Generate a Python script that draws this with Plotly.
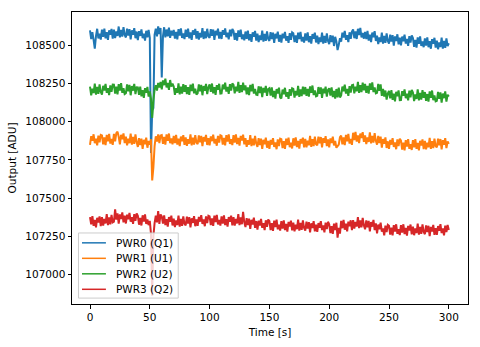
import plotly.graph_objects as go

# Time axis [s], one sample per second
time_s = list(range(0, 301))

pwr0_q1 = [
    108600, 108542, 108587, 108537, 108480, 108562, 108610, 108547, 108577, 108539,
    108605, 108557, 108611, 108547, 108587, 108537, 108600, 108570, 108609, 108545,
    108605, 108549, 108593, 108563, 108625, 108553, 108603, 108558, 108620, 108570,
    108553, 108611, 108566, 108608, 108540, 108600, 108570, 108614, 108548, 108592,
    108536, 108594, 108563, 108606, 108548, 108578, 108533, 108597, 108554, 108602,
    108550, 107795, 108075, 108090, 108570, 108610, 108560, 108625, 108575, 108615,
    108290, 108560, 108620, 108553, 108605, 108560, 108618, 108550, 108597, 108565,
    108603, 108545, 108590, 108540, 108607, 108565, 108613, 108550, 108580, 108542,
    108605, 108557, 108611, 108547, 108587, 108537, 108600, 108570, 108609, 108545,
    108595, 108539, 108583, 108553, 108615, 108543, 108593, 108548, 108610, 108560,
    108550, 108608, 108563, 108605, 108537, 108597, 108567, 108611, 108545, 108589,
    108543, 108601, 108570, 108613, 108555, 108585, 108540, 108604, 108561, 108609,
    108595, 108537, 108582, 108532, 108599, 108557, 108605, 108542, 108572, 108534,
    108592, 108544, 108598, 108534, 108574, 108524, 108587, 108557, 108596, 108532,
    108578, 108522, 108566, 108536, 108598, 108526, 108576, 108531, 108593, 108543,
    108530, 108588, 108543, 108585, 108517, 108577, 108547, 108591, 108525, 108569,
    108520, 108578, 108547, 108590, 108532, 108562, 108517, 108581, 108538, 108586,
    108580, 108522, 108567, 108517, 108584, 108542, 108590, 108527, 108557, 108519,
    108580, 108532, 108586, 108522, 108562, 108512, 108575, 108545, 108584, 108520,
    108565, 108509, 108553, 108523, 108585, 108513, 108563, 108518, 108580, 108530,
    108510, 108568, 108523, 108565, 108497, 108557, 108527, 108470, 108505, 108549,
    108526, 108584, 108553, 108596, 108538, 108568, 108523, 108587, 108544, 108592,
    108606, 108548, 108593, 108543, 108610, 108568, 108616, 108553, 108583, 108545,
    108590, 108542, 108596, 108532, 108572, 108522, 108585, 108555, 108594, 108530,
    108565, 108509, 108553, 108523, 108585, 108513, 108563, 108518, 108580, 108530,
    108513, 108571, 108526, 108568, 108500, 108560, 108530, 108574, 108508, 108552,
    108501, 108559, 108528, 108571, 108513, 108543, 108498, 108562, 108519, 108567,
    108550, 108492, 108537, 108487, 108554, 108512, 108560, 108497, 108527, 108489,
    108547, 108499, 108553, 108489, 108529, 108479, 108542, 108512, 108551, 108487,
    108532, 108476, 108520, 108490, 108552, 108480, 108530, 108485, 108547, 108497, 108515,
]

pwr1_u1 = [
    107848, 107906, 107875, 107918, 107860, 107890, 107845, 107909, 107866, 107914,
    107910, 107852, 107897, 107847, 107914, 107872, 107920, 107857, 107887, 107849,
    107920, 107872, 107926, 107935, 107902, 107852, 107915, 107885, 107924, 107860,
    107902, 107846, 107890, 107860, 107922, 107850, 107900, 107855, 107917, 107867,
    107835, 107893, 107848, 107890, 107822, 107882, 107852, 107896, 107830, 107874,
    107850, 107885, 107615, 107700, 107840, 107905, 107870, 107918, 107860, 107910,
    107913, 107855, 107900, 107850, 107917, 107875, 107923, 107860, 107890, 107852,
    107908, 107860, 107914, 107850, 107890, 107840, 107903, 107873, 107912, 107848,
    107898, 107842, 107886, 107856, 107918, 107846, 107896, 107851, 107913, 107863,
    107853, 107911, 107866, 107908, 107840, 107900, 107870, 107914, 107848, 107892,
    107846, 107904, 107873, 107916, 107858, 107888, 107843, 107907, 107864, 107912,
    107908, 107850, 107895, 107845, 107912, 107870, 107918, 107855, 107885, 107847,
    107912, 107864, 107918, 107854, 107894, 107844, 107907, 107877, 107916, 107852,
    107892, 107836, 107880, 107850, 107912, 107840, 107890, 107845, 107907, 107857,
    107835, 107893, 107848, 107890, 107822, 107882, 107852, 107896, 107830, 107874,
    107823, 107881, 107850, 107893, 107835, 107865, 107820, 107884, 107841, 107889,
    107886, 107828, 107873, 107823, 107890, 107848, 107896, 107833, 107863, 107825,
    107892, 107844, 107898, 107834, 107874, 107824, 107887, 107857, 107896, 107832,
    107888, 107832, 107876, 107846, 107908, 107836, 107886, 107841, 107903, 107853,
    107845, 107903, 107858, 107900, 107832, 107892, 107862, 107906, 107840, 107884,
    107833, 107891, 107860, 107903, 107845, 107875, 107830, 107840, 107851, 107899,
    107910, 107852, 107897, 107847, 107914, 107872, 107920, 107857, 107887, 107849,
    107928, 107880, 107934, 107870, 107910, 107860, 107923, 107893, 107932, 107868,
    107910, 107854, 107898, 107868, 107930, 107858, 107908, 107863, 107925, 107875,
    107850, 107908, 107861, 107903, 107830, 107887, 107856, 107898, 107828, 107872,
    107823, 107881, 107850, 107893, 107835, 107865, 107820, 107884, 107841, 107889,
    107876, 107818, 107863, 107813, 107880, 107838, 107886, 107823, 107853, 107815,
    107880, 107832, 107886, 107822, 107862, 107812, 107875, 107845, 107884, 107820,
    107875, 107819, 107863, 107833, 107895, 107823, 107873, 107828, 107890, 107840,
    107832, 107890, 107845, 107887, 107819, 107879, 107849, 107893, 107827, 107871, 107855,
]

pwr2_u2 = [
    108230, 108174, 108218, 108188, 108250, 108178, 108228, 108183, 108245, 108195,
    108178, 108236, 108205, 108248, 108190, 108220, 108175, 108239, 108196, 108244,
    108243, 108185, 108230, 108180, 108247, 108205, 108253, 108190, 108220, 108182,
    108187, 108245, 108200, 108242, 108174, 108234, 108204, 108248, 108182, 108226,
    108225, 108177, 108231, 108167, 108207, 108157, 108220, 108190, 108229, 108165,
    108200, 108150, 108025, 108140, 108210, 108240, 108205, 108255, 108225, 108262,
    108213, 108271, 108240, 108283, 108225, 108255, 108210, 108274, 108231, 108250,
    108232, 108176, 108220, 108190, 108252, 108180, 108230, 108185, 108247, 108197,
    108240, 108182, 108227, 108177, 108244, 108202, 108250, 108187, 108217, 108179,
    108187, 108245, 108200, 108242, 108174, 108234, 108204, 108248, 108182, 108226,
    108245, 108197, 108251, 108187, 108227, 108177, 108240, 108210, 108249, 108185,
    108186, 108244, 108213, 108256, 108198, 108228, 108183, 108247, 108204, 108252,
    108242, 108186, 108230, 108200, 108262, 108190, 108240, 108195, 108257, 108207,
    108238, 108180, 108225, 108175, 108242, 108200, 108248, 108185, 108215, 108177,
    108175, 108233, 108188, 108230, 108162, 108222, 108192, 108236, 108170, 108214,
    108220, 108172, 108226, 108162, 108202, 108152, 108215, 108185, 108224, 108160,
    108153, 108211, 108180, 108223, 108165, 108195, 108150, 108214, 108171, 108219,
    108215, 108159, 108203, 108173, 108235, 108163, 108213, 108168, 108230, 108180,
    108228, 108170, 108215, 108165, 108232, 108190, 108238, 108175, 108205, 108167,
    108170, 108228, 108183, 108225, 108157, 108217, 108187, 108231, 108165, 108209,
    108220, 108172, 108226, 108162, 108202, 108152, 108215, 108160, 108224, 108160,
    108173, 108231, 108200, 108243, 108185, 108215, 108170, 108234, 108191, 108239,
    108242, 108186, 108230, 108200, 108262, 108190, 108240, 108195, 108257, 108207,
    108248, 108190, 108235, 108185, 108252, 108210, 108258, 108195, 108225, 108187,
    108190, 108248, 108203, 108245, 108170, 108215, 108165, 108205, 108145, 108185,
    108202, 108154, 108208, 108144, 108184, 108134, 108197, 108167, 108206, 108142,
    108143, 108201, 108170, 108213, 108155, 108185, 108140, 108204, 108161, 108209,
    108192, 108136, 108180, 108150, 108212, 108140, 108190, 108145, 108207, 108157,
    108195, 108137, 108182, 108132, 108199, 108157, 108205, 108142, 108172, 108134,
    108138, 108196, 108151, 108193, 108125, 108185, 108155, 108199, 108133, 108177, 108165,
]

pwr3_q2 = [
    107375, 107327, 107381, 107317, 107357, 107307, 107370, 107340, 107379, 107315,
    107375, 107319, 107363, 107333, 107395, 107323, 107373, 107328, 107390, 107340,
    107345, 107425, 107358, 107400, 107332, 107392, 107362, 107406, 107340, 107384,
    107333, 107391, 107360, 107403, 107345, 107375, 107330, 107394, 107351, 107399,
    107383, 107325, 107370, 107320, 107387, 107345, 107393, 107330, 107360, 107322,
    107350, 107265, 106860, 107250, 107335, 107385, 107340, 107415, 107330, 107392,
    107380, 107332, 107386, 107322, 107362, 107312, 107375, 107345, 107384, 107320,
    107365, 107309, 107353, 107323, 107385, 107313, 107363, 107318, 107380, 107330,
    107320, 107378, 107333, 107375, 107307, 107367, 107337, 107381, 107315, 107359,
    107318, 107376, 107345, 107388, 107330, 107360, 107315, 107379, 107336, 107384,
    107380, 107322, 107367, 107317, 107384, 107342, 107390, 107327, 107357, 107319,
    107380, 107332, 107386, 107322, 107362, 107312, 107375, 107345, 107384, 107320,
    107375, 107319, 107363, 107333, 107395, 107323, 107373, 107328, 107410, 107340,
    107310, 107368, 107323, 107365, 107297, 107357, 107327, 107371, 107305, 107349,
    107293, 107351, 107320, 107363, 107305, 107335, 107290, 107354, 107311, 107359,
    107348, 107290, 107335, 107285, 107352, 107310, 107358, 107295, 107325, 107287,
    107348, 107300, 107354, 107290, 107330, 107280, 107343, 107313, 107352, 107288,
    107338, 107282, 107326, 107296, 107358, 107286, 107336, 107291, 107353, 107303,
    107287, 107345, 107300, 107342, 107274, 107334, 107304, 107348, 107282, 107326,
    107278, 107336, 107305, 107348, 107290, 107320, 107275, 107339, 107296, 107344,
    107328, 107270, 107315, 107265, 107332, 107290, 107338, 107240, 107305, 107267,
    107350, 107302, 107356, 107292, 107332, 107282, 107345, 107315, 107354, 107290,
    107355, 107299, 107343, 107313, 107375, 107303, 107353, 107308, 107370, 107320,
    107295, 107353, 107308, 107350, 107282, 107342, 107312, 107356, 107290, 107334,
    107268, 107326, 107295, 107338, 107280, 107300, 107255, 107319, 107276, 107324,
    107318, 107260, 107305, 107255, 107322, 107280, 107328, 107265, 107295, 107257,
    107322, 107274, 107328, 107264, 107304, 107254, 107317, 107287, 107326, 107262,
    107312, 107256, 107300, 107270, 107332, 107260, 107310, 107265, 107327, 107277,
    107263, 107321, 107276, 107318, 107250, 107310, 107280, 107324, 107258, 107302,
    107258, 107316, 107285, 107328, 107270, 107300, 107255, 107319, 107276, 107324, 107290,
]

series_names = ["PWR0 (Q1)", "PWR1 (U1)", "PWR2 (U2)", "PWR3 (Q2)"]
series_values = [pwr0_q1, pwr1_u1, pwr2_u2, pwr3_q2]
series_colors = ["#1f77b4", "#ff7f0e", "#2ca02c", "#d62728"]

x_ticks = [0, 50, 100, 150, 200, 250, 300]
y_ticks = [107000, 107250, 107500, 107750, 108000, 108250, 108500]

FONT = "DejaVu Sans"
FS = 10.5

# plot area in pixels (for the hand-placed legend box)
W, H = 480, 347
ML, MR, MT, MB = 72, 11, 11, 40
PW, PH = W - ML - MR, H - MT - MB


def px_x(px):
    return (px - ML) / PW


def px_y(py):
    return (H - MB - py) / PH


fig = go.Figure()
for name, vals, col in zip(series_names, series_values, series_colors):
    fig.add_trace(go.Scatter(
        x=time_s, y=vals, mode="lines", name=name,
        line=dict(color=col, width=2, simplify=False),
        showlegend=False,
    ))

# Legend drawn as shapes + text (matplotlib-style compact legend)
shapes = [dict(
    type="rect", xref="paper", yref="paper", layer="above",
    x0=px_x(78.5), x1=px_x(178.5), y0=px_y(301), y1=px_y(235),
    fillcolor="rgba(255,255,255,0.8)", line=dict(color="#cccccc", width=1),
)]
annotations = []
entry_y = [245, 260.7, 276.4, 292.1]
for name, col, ey in zip(series_names, series_colors, entry_y):
    shapes.append(dict(
        type="line", xref="paper", yref="paper", layer="above",
        x0=px_x(82), x1=px_x(106), y0=px_y(ey), y1=px_y(ey),
        line=dict(color=col, width=1.5),
    ))
    annotations.append(dict(
        xref="paper", yref="paper", x=px_x(114), y=px_y(ey),
        xanchor="left", yanchor="middle", showarrow=False, text=name,
        font=dict(family=FONT, size=FS, color="black"),
    ))

axis_common = dict(
    showline=True, linecolor="black", linewidth=1, mirror=True,
    ticks="outside", ticklen=3.5, tickwidth=1, tickcolor="black",
    showgrid=False, zeroline=False,
    tickfont=dict(family=FONT, size=FS, color="black"),
)

fig.update_layout(
    width=W, height=H,
    margin=dict(l=ML, r=MR, t=MT, b=MB),
    paper_bgcolor="white", plot_bgcolor="white",
    font=dict(family=FONT, size=FS, color="black"),
    showlegend=False,
    shapes=shapes, annotations=annotations,
    xaxis=dict(
        range=[-15.05, 316.05], tickvals=x_ticks, tickformat="d",
        title=dict(text="Time [s]", font=dict(family=FONT, size=FS), standoff=6),
        **axis_common,
    ),
    yaxis=dict(
        range=[106805, 108720], tickvals=y_ticks, tickformat="d",
        title=dict(text="Output [ADU]", font=dict(family=FONT, size=FS), standoff=6),
        **axis_common,
    ),
)

fig.write_html("out.html")
